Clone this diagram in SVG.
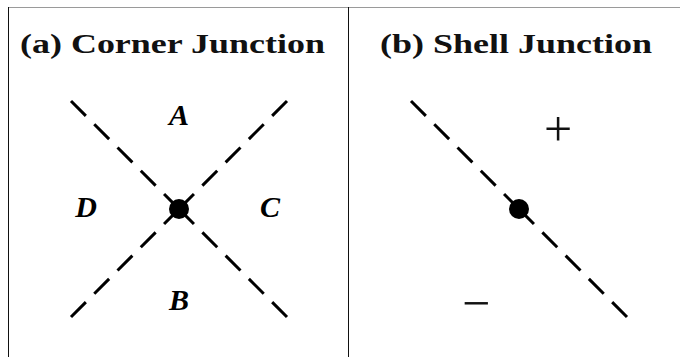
<svg xmlns="http://www.w3.org/2000/svg" width="680" height="357" viewBox="0 0 680 357">
<style>
.title{font-family:"Liberation Serif","Times New Roman",serif;font-weight:bold;font-size:27px;fill:#111}
.lbl{font-family:"Liberation Serif","Times New Roman",serif;font-weight:bold;font-style:italic;font-size:30px;fill:#000;text-anchor:middle}
.sign{font-family:"Liberation Serif","Times New Roman",serif;font-size:50px;fill:#111;text-anchor:middle}
.dash{stroke:#000;stroke-width:3;stroke-dasharray:21 11.9;fill:none}
.frame{stroke:#111;stroke-width:1;fill:none}
</style>
<rect width="680" height="357" fill="#fff"/>
<g id="frame">
<line x1="8" y1="7.5" x2="680" y2="7.5" stroke="#9a9a9a" stroke-width="1"/>
<line class="frame" x1="8.5" y1="7" x2="8.5" y2="357"/>
<line class="frame" x1="348.5" y1="7" x2="348.5" y2="357"/>
</g>
<g id="connectors">
<line class="dash" x1="71" y1="101" x2="179" y2="209"/>
<line class="dash" x1="287" y1="317" x2="179" y2="209"/>
<line class="dash" x1="287" y1="101" x2="179" y2="209"/>
<line class="dash" x1="71" y1="317" x2="179" y2="209"/>
<line class="dash" x1="411" y1="101" x2="519" y2="209"/>
<line class="dash" x1="627" y1="317" x2="519" y2="209"/>
</g>
<g id="panel-a">
<text class="title" x="20" y="53" textLength="305" lengthAdjust="spacingAndGlyphs">(a) Corner Junction</text>
<circle id="junction-a" cx="179" cy="209" r="10" fill="#000"/>
<text class="lbl" x="179" y="125">A</text>
<text class="lbl" x="179" y="310">B</text>
<text class="lbl" x="270" y="217">C</text>
<text class="lbl" x="86" y="217">D</text>
</g>
<g id="panel-b">
<text class="title" x="380" y="53" textLength="272" lengthAdjust="spacingAndGlyphs">(b) Shell Junction</text>
<circle id="junction-b" cx="519" cy="209" r="10" fill="#000"/>
<text class="sign" x="558" y="146">+</text>
<text class="sign" x="476" y="320">−</text>
</g>
</svg>
